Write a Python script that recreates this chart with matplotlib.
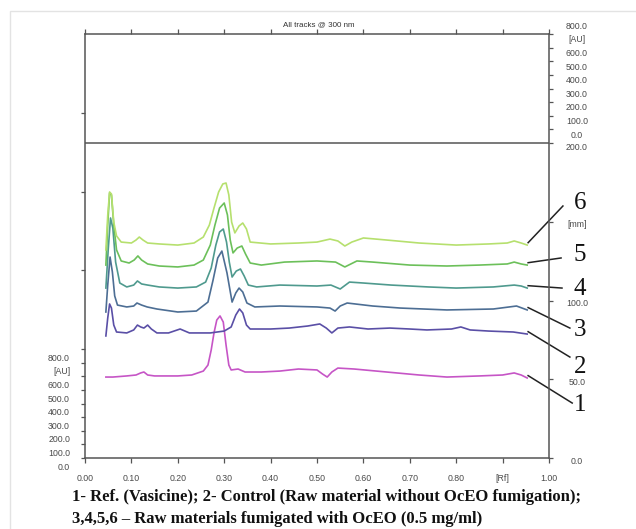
import matplotlib
matplotlib.use("Agg")
import matplotlib.pyplot as plt
from matplotlib.patches import Rectangle

# densitogram tracks: Rf position vs. track height (right axis, mm)
rf1 = [0.045, 0.060, 0.090, 0.110, 0.120, 0.127, 0.135, 0.150, 0.200, 0.230, 0.255, 0.265,
       0.272, 0.278, 0.284, 0.291, 0.298, 0.304, 0.310, 0.315, 0.330, 0.345, 0.380, 0.420,
       0.460, 0.500, 0.512, 0.522, 0.532, 0.545, 0.580, 0.650, 0.720, 0.780, 0.850, 0.900,
       0.925, 0.940, 0.953]
mm1 = [51.4, 51.4, 52.1, 52.7, 54.0, 54.6, 52.7, 52.1, 52.1, 52.7, 55.2, 59.0,
       68.6, 79.4, 87.6, 90.2, 86.3, 71.7, 59.0, 55.9, 56.5, 54.6, 54.6, 55.2,
       56.5, 55.9, 53.3, 51.4, 54.6, 57.1, 56.5, 54.6, 52.7, 51.4, 52.1, 52.7,
       54.0, 52.7, 50.8]

rf2 = [0.045, 0.049, 0.053, 0.057, 0.062, 0.068, 0.090, 0.105, 0.113, 0.120, 0.127, 0.135,
       0.143, 0.155, 0.180, 0.205, 0.225, 0.270, 0.300, 0.315, 0.325, 0.333, 0.340, 0.348,
       0.356, 0.400, 0.440, 0.480, 0.506, 0.520, 0.532, 0.545, 0.570, 0.610, 0.657, 0.700,
       0.737, 0.790, 0.810, 0.830, 0.870, 0.923, 0.953]
mm2 = [77.5, 88.9, 97.8, 95.2, 84.4, 80.0, 79.4, 81.3, 84.4, 83.2, 82.5, 84.4,
       81.9, 79.4, 79.4, 81.9, 79.4, 79.4, 80.6, 83.2, 90.8, 94.6, 92.1, 84.4,
       81.9, 81.9, 82.5, 83.8, 85.1, 82.5, 79.4, 82.5, 83.2, 81.9, 82.5, 81.9,
       81.3, 81.9, 83.2, 81.3, 80.6, 80.0, 78.7]

rf3 = [0.045, 0.049, 0.054, 0.059, 0.064, 0.070, 0.090, 0.105, 0.112, 0.122, 0.134, 0.155,
       0.200, 0.240, 0.265, 0.276, 0.286, 0.295, 0.306, 0.317, 0.325, 0.332, 0.340, 0.349,
       0.366, 0.420, 0.500, 0.528, 0.539, 0.550, 0.565, 0.620, 0.680, 0.780, 0.880, 0.930,
       0.953]
mm3 = [92.7, 109.8, 127.6, 118.1, 102.9, 97.1, 95.9, 96.5, 98.4, 97.1, 95.9, 94.6,
       92.7, 93.3, 99.0, 113.0, 127.0, 131.4, 117.5, 99.0, 104.8, 107.9, 105.4, 98.4,
       95.9, 96.5, 95.9, 95.2, 93.3, 96.5, 98.4, 96.5, 95.2, 94.0, 94.6, 96.5,
       94.0]

rf4 = [0.045, 0.050, 0.055, 0.060, 0.066, 0.075, 0.090, 0.105, 0.113, 0.122, 0.135, 0.160,
       0.200, 0.240, 0.260, 0.272, 0.282, 0.290, 0.298, 0.305, 0.311, 0.317, 0.326, 0.335,
       0.343, 0.352, 0.370, 0.420, 0.500, 0.530, 0.550, 0.570, 0.600, 0.660, 0.740, 0.800,
       0.880, 0.925, 0.940, 0.953]
mm4 = [107.9, 132.1, 152.4, 146.0, 124.4, 111.1, 108.6, 109.8, 112.4, 110.5, 109.8, 108.6,
       107.9, 108.6, 111.7, 120.6, 135.2, 143.5, 145.4, 137.1, 124.4, 114.9, 118.7, 120.0,
       115.6, 109.8, 108.6, 109.8, 109.2, 109.8, 107.3, 111.7, 111.1, 109.8, 108.6, 107.9,
       108.6, 109.8, 109.2, 107.9]

rf5 = [0.045, 0.049, 0.053, 0.057, 0.062, 0.068, 0.078, 0.095, 0.106, 0.114, 0.122, 0.135,
       0.160, 0.200, 0.235, 0.255, 0.270, 0.280, 0.290, 0.300, 0.307, 0.313, 0.319, 0.328,
       0.338, 0.346, 0.356, 0.380, 0.430, 0.500, 0.540, 0.560, 0.586, 0.620, 0.700, 0.780,
       0.850, 0.910, 0.925, 0.940, 0.953]
mm5 = [122.5, 147.9, 168.3, 167.0, 147.9, 132.1, 125.1, 123.8, 125.7, 128.3, 125.7, 123.2,
       121.9, 121.3, 122.5, 125.7, 135.2, 147.9, 158.7, 161.9, 154.3, 138.4, 130.2, 133.3,
       134.6, 129.5, 123.8, 122.5, 124.4, 125.1, 124.4, 121.3, 125.1, 124.4, 122.5, 121.9,
       122.5, 123.2, 124.4, 123.2, 122.5]

rf6 = [0.045, 0.049, 0.053, 0.057, 0.062, 0.068, 0.078, 0.100, 0.110, 0.117, 0.125, 0.135,
       0.160, 0.200, 0.235, 0.255, 0.268, 0.278, 0.288, 0.297, 0.304, 0.310, 0.316, 0.323,
       0.332, 0.340, 0.348, 0.356, 0.400, 0.460, 0.500, 0.528, 0.545, 0.560, 0.575, 0.600,
       0.650, 0.720, 0.800, 0.870, 0.910, 0.925, 0.940, 0.953]
mm6 = [132.1, 154.3, 168.9, 167.6, 149.8, 141.0, 137.1, 136.5, 138.4, 140.3, 138.4, 136.5,
       135.9, 135.2, 136.5, 140.3, 147.9, 158.7, 168.9, 174.0, 174.6, 167.0, 149.8, 142.9,
       147.3, 149.2, 145.4, 137.1, 135.9, 136.5, 137.1, 139.0, 137.8, 134.6, 137.1, 139.7,
       138.4, 136.5, 135.2, 135.9, 136.5, 137.8, 136.5, 135.2]

track_names = ["1", "2", "3", "4", "5", "6"]
track_colors = ["#c655c6", "#5a4fa6", "#4d6e94", "#4f9a8e", "#6cc05a", "#b6e06e"]

rf_ticks = [0.0, 0.1, 0.2, 0.3, 0.4, 0.5, 0.6, 0.7, 0.8, 0.9, 1.0]
rf_labels = ["0.00", "0.10", "0.20", "0.30", "0.40", "0.50", "0.60", "0.70", "0.80", "[Rf]", "1.00"]
au_labels = ["0.0", "100.0", "200.0", "300.0", "400.0", "500.0", "600.0", "[AU]", "800.0"]
mm_ticks = [0, 50, 100, 150]
mm_labels = ["0.0", "50.0", "100.0", "[mm]"]

caption1 = "1- Ref. (Vasicine); 2- Control (Raw material without OcEO fumigation);"
caption2 = "3,4,5,6 \u2013 Raw materials fumigated with OcEO (0.5 mg/ml)"

# layout (pixels of the 636x529 picture)
W, H = 636, 529
px_mm = 1.575          # pixels per mm on the track axis
au_step = 13.6 / px_mm  # 100 AU in mm units
lower_au0 = 0.0
upper_au0 = 200.0
ytop = (458 - 34) / px_mm
axis_col = "#555555"
lab_col = "#4a4a4a"

fig = plt.figure(figsize=(W / 100, H / 100), dpi=100)
fig.patch.set_facecolor("white")

# faint frame of the original screenshot
fig.add_artist(Rectangle((10 / W, -0.1), 1.2, 1 - 11 / H + 0.1, transform=fig.transFigure,
                         fill=False, edgecolor="#e3e3e3", lw=1.0))

ax = fig.add_axes([85 / W, 1 - 458 / H, 464 / W, (458 - 34) / H])
ax.set_xlim(0, 1)
ax.set_ylim(0, ytop)

for rf, mm, col in zip([rf1, rf2, rf3, rf4, rf5, rf6], [mm1, mm2, mm3, mm4, mm5, mm6], track_colors):
    ax.plot(rf, mm, color=col, lw=1.2, solid_joinstyle="round")

ax.axhline(200, color=axis_col, lw=1.1)

for s in ax.spines.values():
    s.set_color(axis_col)
    s.set_linewidth(1.1)

ax.set_xticks(rf_ticks)
ax.set_xticklabels(rf_labels, fontsize=6.3, color=lab_col, family="Liberation Sans")
ax.tick_params(axis="x", which="both", direction="out", length=3.5, width=0.9, color=axis_col,
               top=True, pad=8)

# left ticks: AU scale of track 1 plus long-spaced marks above it
left_ticks = [lower_au0 + i * au_step for i in range(9)]
left_ticks += [left_ticks[-1] + 50 * k for k in range(1, 4)]
ax.set_yticks(left_ticks)
ax.set_yticklabels([])
ax.tick_params(axis="y", direction="out", length=3, width=0.9, color=axis_col)

ax2 = ax.twinx()
ax2.set_ylim(0, ytop)
right_ticks = mm_ticks + [upper_au0 + i * au_step for i in range(9)]
ax2.set_yticks(right_ticks)
ax2.set_yticklabels([])
ax2.tick_params(axis="y", direction="out", length=3, width=0.9, color=axis_col)
for s in ax2.spines.values():
    s.set_visible(False)

ytr = ax.get_yaxis_transform()
tkw = dict(fontsize=6.3, color=lab_col, family="Liberation Sans", va="center", clip_on=False)
for i, lab in enumerate(au_labels):
    ax.text((70 - 85) / 464, lower_au0 + i * au_step - 9 / px_mm, lab, ha="right", transform=ytr, **tkw)
    ax.text((577 - 85) / 464, upper_au0 + i * au_step + 8 / px_mm, lab, ha="center", transform=ytr, **tkw)
ax.text((577 - 85) / 464, 200 - 4 / px_mm, "200.0", ha="center", transform=ytr, **tkw)
for t, lab in zip(mm_ticks, mm_labels):
    ax.text((577 - 85) / 464, t - 3 / px_mm, lab, ha="center", transform=ytr, **tkw)

fig.text(319 / W, 1 - 25 / H, "All tracks @ 300 nm", fontsize=5.8, color="#333333",
         family="Liberation Sans", ha="center", va="center")

# track numbers with leader lines
label_pos = [(1.067, 33.7), (1.067, 57.8), (1.067, 81.3), (1.067, 107.5), (1.067, 128.9), (1.067, 161.9)]
leader_end = [(1.050, 34.9), (1.045, 64.1), (1.045, 82.5), (1.028, 107.9), (1.026, 127.0), (1.030, 160.0)]
for name, rf, mm, lp, le in zip(track_names, [rf1, rf2, rf3, rf4, rf5, rf6],
                                [mm1, mm2, mm3, mm4, mm5, mm6], label_pos, leader_end):
    ax.plot([rf[-1] + 0.002, le[0]], [mm[-1] + 1.5, le[1]], color="#222222", lw=1.1, clip_on=False)
    ax.text(lp[0], lp[1], name, fontsize=18, family="Liberation Serif", color="#111111",
            ha="center", va="center", clip_on=False)

fig.text(72 / W, 1 - 497 / H, caption1, fontsize=12.0, fontweight="bold", family="Liberation Serif",
         ha="left", va="center", color="#111111")
fig.text(72 / W, 1 - 519 / H, caption2, fontsize=12.0, fontweight="bold", family="Liberation Serif",
         ha="left", va="center", color="#111111")

fig.savefig("out.png", dpi=100)
